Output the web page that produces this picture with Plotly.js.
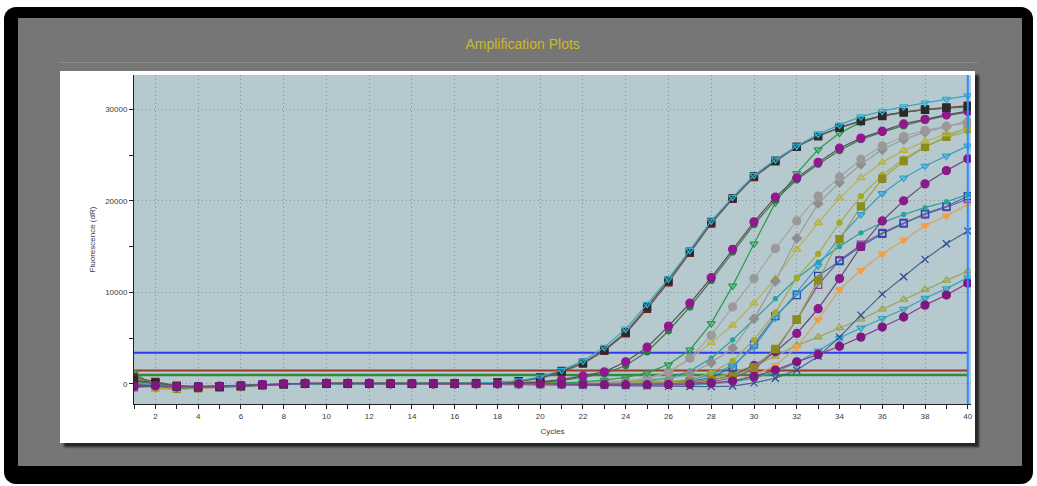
<!DOCTYPE html>
<html>
<head>
<meta charset="utf-8">
<script src="https://cdn.plot.ly/plotly-3.0.1.min.js"></script>
<style>
  html, body { margin:0; padding:0; background:#ffffff; width:1037px; height:486px; overflow:hidden; }
  #frame { position:absolute; left:4px; top:7px; width:1029px; height:477px; background:#000; border-radius:12px; }
  #inner { position:absolute; left:18px; top:18px; width:1004px; height:448px; background:#767676; }
  #sep { position:absolute; left:60px; top:62px; width:918px; height:0; border-top:1px solid #8a8a8a; }
  #panel { position:absolute; left:60px; top:71px; width:915px; height:372px; background:#ffffff; box-shadow:4px 4px 2px #262626; }
  #chart { position:absolute; left:0; top:0; width:1037px; height:486px; }
</style>
</head>
<body>
<div id="frame"></div>
<div id="inner"></div>
<div id="sep"></div>
<div id="panel"></div>
<div id="chart"></div>
<script>
const cycles = [1,2,3,4,5,6,7,8,9,10,11,12,13,14,15,16,17,18,19,20,21,22,23,24,25,26,27,28,29,30,31,32,33,34,35,36,37,38,39,40];

const cyanTop = [-200,-100,-300,-350,-300,-250,-150,-50,0,20,20,10,0,0,20,40,80,150,330,
  750,1500,2500,4000,6000,8700,11500,14600,17800,20400,22800,24500,26000,27300,28300,29200,29800,30300,30700,31100,31500];
const blackSq = [400,100,-300,-400,-350,-250,-150,-50,0,20,20,10,0,0,10,30,70,140,300,
  700,1400,2300,3700,5650,8400,11300,14450,17700,20300,22700,24400,25900,27050,28000,28700,29250,29650,29950,30150,30300];
const maroonSq = [700,200,-200,-350,-300,-250,-150,-50,0,10,10,0,0,0,10,20,60,120,260,
  600,1300,2200,3600,5500,8200,11100,14300,17500,20200,22600,24300,25900,27100,28000,28750,29300,29700,30000,30200,30400];
const greenTri = [1200,-300,-500,-450,-350,-250,-150,-50,0,30,30,20,10,0,0,0,0,10,20,
  40,80,200,400,700,1200,2100,3700,6600,10700,15300,19800,23000,25600,27400,28600,29300,29700,29950,30150,30300];
const magentaDot = [-100,-200,-300,-350,-300,-200,-100,0,50,50,40,30,20,20,20,30,40,60,100,
  200,450,850,1300,2400,4000,6300,8800,11600,14700,17700,20400,22500,24200,25750,26850,27600,28400,28900,29400,29800];
const darkGreenDot = [300,0,-250,-300,-300,-200,-100,0,30,40,30,20,10,10,10,20,30,50,80,
  150,350,700,1100,2000,3500,5800,8400,11300,14400,17400,20100,22300,24000,25500,26700,27500,28200,28800,29300,29700];
const grayDot = [900,-200,-400,-400,-350,-250,-150,-50,0,20,20,10,0,0,0,0,0,0,0,
  10,30,100,200,350,600,1300,2800,5300,8400,11500,14800,17800,20500,22600,24550,26000,27050,27700,28150,28500];
const grayDiamond = [200,-100,-300,-350,-300,-200,-100,0,20,20,10,0,0,0,0,0,0,0,0,
  0,10,40,100,200,300,500,1100,2300,3900,7100,11200,15900,19700,22000,24000,25600,26700,27500,28100,28700];
const yellowTri = [1100,-500,-600,-500,-400,-300,-150,0,40,40,30,20,10,0,0,0,0,0,0,
  0,20,60,150,300,500,1200,2700,4500,6400,8800,11500,14700,17600,20300,22500,24200,25500,26500,27300,27900];
const oliveSq = [1000,-400,-550,-500,-400,-300,-150,0,30,30,20,10,0,0,0,0,0,0,0,
  0,0,10,20,40,80,120,200,400,800,1800,3800,7000,11300,15800,19400,22400,24350,25900,27000,28000];
const yellowDot = [800,-300,-450,-450,-350,-250,-150,-50,0,20,20,10,0,0,0,0,0,0,0,
  0,10,30,60,100,150,250,500,1200,2500,4800,7800,11600,14200,17600,20500,22800,24600,25900,26900,27600];
const cyanMid = [0,-150,-300,-350,-300,-200,-100,0,20,20,10,0,0,0,0,0,0,0,0,
  0,10,30,60,100,150,250,400,1000,2000,4000,7200,10000,12900,16000,18500,20800,22500,23800,24900,26000];
const tealDot = [500,-100,-350,-400,-300,-200,-100,0,20,30,20,10,0,0,0,0,0,0,10,
  20,40,80,150,250,400,600,1400,2800,4800,7000,9300,11500,13300,15000,16500,17600,18500,19250,19900,20700];
const purpleMid = [-300,-300,-350,-350,-300,-200,-100,0,50,50,40,30,20,20,10,10,10,0,0,
  0,0,10,20,40,60,100,200,400,900,2000,3500,5500,8200,11500,15000,17800,20000,21850,23300,24600];
const blueSq = [300,0,-250,-300,-250,-200,-100,0,20,20,10,0,0,0,0,0,0,0,0,
  0,0,0,10,30,60,100,250,700,1800,4300,7400,9700,11800,13400,15000,16400,17500,18600,19400,20500];
const purpleSq = [-400,-200,-300,-300,-250,-200,-100,0,20,20,10,0,0,0,0,0,0,0,0,
  0,0,0,0,10,20,50,100,250,600,1600,3600,7000,10800,13500,15200,16500,17600,18500,19300,20200];
const orangeTri = [1000,-600,-650,-550,-450,-300,-150,-50,0,20,20,10,0,0,0,0,0,0,0,
  0,0,0,0,10,30,60,100,150,300,900,2000,4000,7000,10300,12400,14200,15700,17300,18350,19600];
const navyX = [200,-100,-300,-350,-300,-250,-150,-50,0,0,0,0,0,0,-20,-40,-60,-80,-100,
  -120,-150,-180,-200,-220,-250,-280,-300,-300,-250,100,600,1500,3000,5100,7500,9800,11700,13600,15300,16700];
const oliveTri = [900,-400,-500,-450,-400,-300,-150,0,30,30,20,10,0,0,0,0,0,0,0,
  0,20,40,70,100,150,200,300,600,1200,2000,3000,4200,5100,6100,7050,8150,9200,10300,11300,12300];
const cyanLow = [100,-100,-300,-350,-300,-200,-100,-50,0,0,0,0,0,0,0,0,-10,-20,-30,
  -40,-60,-80,-100,-120,-150,-150,-100,-50,200,600,1300,2300,3600,5000,6100,7150,8150,9350,10400,11600];
const purpleLow = [-200,-200,-300,-300,-250,-200,-100,0,50,50,40,30,20,10,0,0,0,0,0,
  -20,-40,-60,-80,-100,-100,-80,-50,100,300,800,1500,2400,3200,4100,5100,6200,7300,8600,9700,11000];

const thresholdValues = [3400, 1450, 950];
const thresholdColors = ['#2e3cf0', '#9a3a26', '#2f8a3c'];
const thresholdWidths = [2, 2, 2.5];
const cycleEnds = [1, 40];

const yTickVals = [0, 10000, 20000, 30000];

// series definitions: [values, marker symbol, marker color, line color, size]
const seriesDefs = [
  [oliveTri,  'triangle-up-open', '#9aa640', '#98a45a', 7],
  [cyanLow,   'triangle-down-open', '#2aa6c4', '#3aa0b8', 7],
  [navyX,     'x-thin-open', '#2f4f96', '#4a6494', 7],
  [orangeTri, 'triangle-down', '#f3a042', '#d9a060', 7],
  [purpleSq,  'square-open', '#8a3ea6', '#7a5a90', 7],
  [blueSq,    'square-open', '#2446b0', '#4a68a8', 7],
  [tealDot,   'circle', '#2aa39a', '#2a9c9a', 4],
  [cyanMid,   'triangle-down-open', '#2aa0d0', '#3c9cc4', 7],
  [purpleMid, 'circle', '#8b1a8b', '#6e4a6e', 8],
  [yellowDot, 'circle', '#a6a82a', '#a8aa50', 5],
  [oliveSq,   'square', '#8c8c1e', '#a0a048', 7],
  [yellowTri, 'triangle-up-open', '#bcb232', '#b4b060', 7],
  [grayDiamond, 'diamond', '#8e8e8e', '#9a9a9a', 7],
  [grayDot,   'circle', '#9a9a9a', '#a4a4a4', 8],
  [greenTri,  'triangle-down-open', '#23984a', '#2a9a50', 7],
  [darkGreenDot, 'circle', '#2d7c3a', '#3a7a44', 6],
  [magentaDot,'circle', '#92188f', '#5e4a5e', 8],
  [maroonSq,  'square', '#6e1e1e', '#7a4a4a', 7],
  [blackSq,   'square', '#2a2a2a', '#5a5a5a', 7],
  [cyanTop,   'triangle-down-open', '#2ab0d4', '#3aa6c4', 7],
  [purpleLow, 'circle', '#7e1780', '#8a3a8a', 8]
];

const traces = [];
thresholdValues.forEach((v, i) => {
  traces.push({
    x: cycleEnds, y: [v, v], mode: 'lines', type: 'scatter',
    line: {color: thresholdColors[i], width: thresholdWidths[i]}, hoverinfo: 'skip'
  });
});
seriesDefs.forEach(d => {
  traces.push({
    x: cycles, y: d[0], mode: 'lines+markers', type: 'scatter',
    line: {color: d[3], width: 1.2},
    marker: {symbol: d[1], color: d[2], size: d[4], line: {color: d[2], width: 1.3}}
  });
});

const tickFont = {family: 'Liberation Sans, Arial, sans-serif', size: 8, color: '#3a3a3a'};

const layout = {
  width: 1037, height: 486,
  margin: {l: 134, r: 66, t: 75, b: 82},
  paper_bgcolor: 'rgba(0,0,0,0)',
  plot_bgcolor: '#b6c9ce',
  showlegend: false,
  title: {
    text: 'Amplification Plots', xref: 'container', yref: 'container',
    x: 0.504, y: 0.909, xanchor: 'center', yanchor: 'middle',
    font: {family: 'Liberation Sans, Arial, sans-serif', size: 14, color: '#cfb925'}
  },
  xaxis: {
    range: [1, 40.15], dtick: 2, tick0: 0,
    showline: true, linecolor: '#222', linewidth: 1,
    ticks: 'outside', ticklen: 4, tickcolor: '#222',
    showgrid: true, gridcolor: '#85979b', griddash: '1px,3px', gridwidth: 1,
    zeroline: false, tickfont: tickFont,
    minor: {dtick: 1, ticks: 'outside', ticklen: 4, tickcolor: '#222', showgrid: false},
    title: {text: 'Cycles', font: tickFont, standoff: 8}
  },
  yaxis: {
    range: [-2210, 33750], tickvals: yTickVals, tickformat: 'd',
    showline: true, linecolor: '#222', linewidth: 1,
    ticks: 'outside', ticklen: 4, tickcolor: '#222',
    showgrid: true, gridcolor: '#85979b', griddash: '1px,3px', gridwidth: 1,
    zeroline: false, tickfont: tickFont,
    minor: {dtick: 5000, ticks: 'outside', ticklen: 4, tickcolor: '#222', showgrid: false},
    title: {text: 'Fluorescence (dR)', font: tickFont, standoff: 8}
  },
  shapes: [{
    type: 'line', xref: 'x', yref: 'paper', x0: 40, x1: 40, y0: 0, y1: 1,
    line: {color: '#2a8cff', width: 2}
  }]
};

Plotly.newPlot('chart', traces, layout, {displayModeBar: false, staticPlot: true});
</script>
</body>
</html>
